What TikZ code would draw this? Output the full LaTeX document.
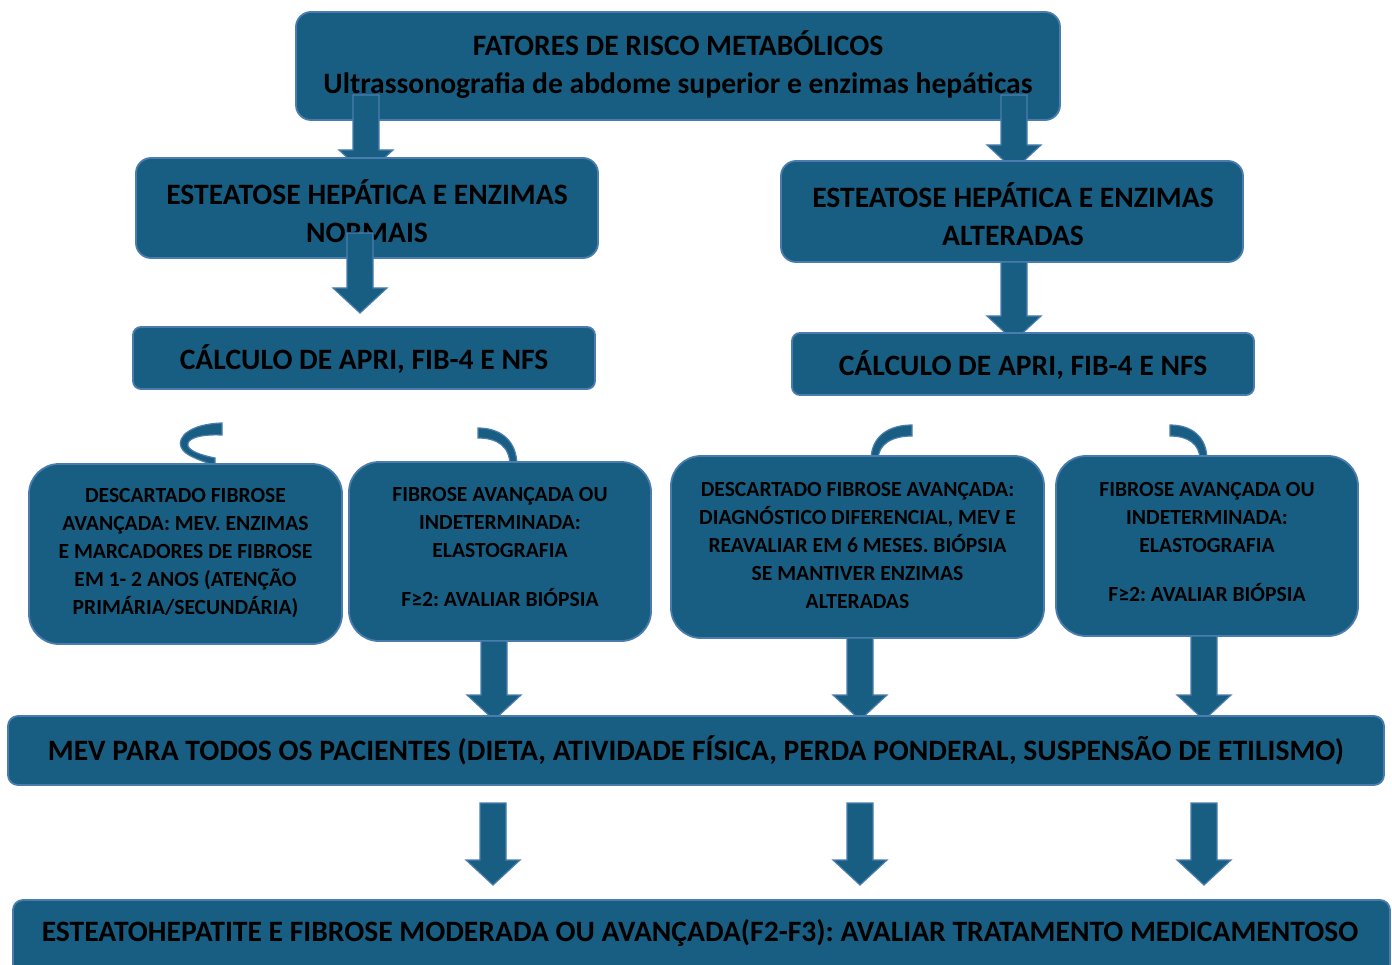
\documentclass[tikz,border=0pt]{standalone}
\usepackage{fontspec}
\setmainfont{Carlito}
\usetikzlibrary{calc}
\frenchspacing
\definecolor{boxfill}{HTML}{185E82}
\definecolor{boxline}{HTML}{4A7DAE}
\tikzset{
  box/.style={draw=boxline, line width=1.8pt, fill=boxfill, inner sep=0pt, rounded corners=#1},
  bigtxt/.style={font=\bfseries\fontsize{29.6}{38}\selectfont, align=center, text=black, inner sep=0pt},
  smalltxt/.style={font=\bfseries\fontsize{21.6}{28}\selectfont, align=center, text=black, inner sep=0pt},
  barrow/.style={draw=boxline, line width=1.2pt, fill=boxfill, line join=miter},
  curv/.style={draw=boxline, line width=1.2pt, fill=boxfill}
}
\newcommand\blockarrow[2]{%
  \path let \p1=(#1), \p2=(#2) in
    [barrow] (\x1-13pt,\y1) -- (\x1-13pt,\y2+25pt) -- (\x1-27pt,\y2+25pt) -- (\x1,\y2)
    -- (\x1+27pt,\y2+25pt) -- (\x1+13pt,\y2+25pt) -- (\x1+13pt,\y1) -- cycle;}
\begin{document}
\begin{tikzpicture}[x=1pt,y=-1pt]
\useasboundingbox (0,0) rectangle (1392,965);
\fill[white] (0,0) rectangle (1392,965);

% top box
\node[box=15pt, minimum width=764pt, minimum height=108pt] (top) at (678,66) {};
\node[bigtxt] (ttop) at (678,65) {FATORES DE RISCO METABÓLICOS\\Ultrassonografia de abdome superior e enzimas hepáticas};

% arrows from top
\coordinate (a1s) at (366,95); \coordinate (a1e) at (366,175);
\coordinate (a2s) at (1014,95); \coordinate (a2e) at (1014,170);
\blockarrow{a1s}{a1e}
\blockarrow{a2s}{a2e}

% level 2
\node[box=15pt, minimum width=462pt, minimum height=100pt] (l2a) at (367,208) {};
\node[bigtxt] (tl2a) at (367,211) {ESTEATOSE HEPÁTICA E ENZIMAS\\NORMAIS};
\node[box=15pt, minimum width=462pt, minimum height=101pt] (l2b) at (1012,211.5) {};
\node[bigtxt] (tl2b) at (1013,214) {ESTEATOSE HEPÁTICA E ENZIMAS\\ALTERADAS};

\coordinate (a3s) at (360,233); \coordinate (a3e) at (360,313);
\coordinate (a4s) at (1014,262); \coordinate (a4e) at (1014,341);
\blockarrow{a3s}{a3e}
\blockarrow{a4s}{a4e}

% level 3
\node[box=8pt, minimum width=462pt, minimum height=62pt] (l3a) at (364,358) {};
\node[bigtxt] (tl3a) at (364,359) {CÁLCULO DE APRI, FIB-4 E NFS};
\node[box=8pt, minimum width=462pt, minimum height=62pt] (l3b) at (1023,364) {};
\node[bigtxt] (tl3b) at (1023,365) {CÁLCULO DE APRI, FIB-4 E NFS};

% curved arrows
\path[curv] (222,423) .. controls (190,424) and (177,437) .. (181,447)
  .. controls (185,456) and (198,459) .. (215,466)
  -- (215,458) .. controls (200,455) and (190,451) .. (188,446)
  .. controls (186,439) and (198,434) .. (222,435) -- cycle;
\path[curv] (478,428) .. controls (500,428) and (517,440) .. (517,466)
  -- (510,466) .. controls (510,446) and (497,438) .. (478,438) -- cycle;
\path[curv] (912,425) .. controls (888,425) and (871,437) .. (871,460)
  -- (878,460) .. controls (878,444) and (892,436) .. (912,436) -- cycle;
\path[curv] (1170,425) .. controls (1192,425) and (1207,437) .. (1207,460)
  -- (1200,460) .. controls (1200,444) and (1188,436) .. (1170,436) -- cycle;

% level 4
\node[box=30pt, minimum width=313pt, minimum height=180pt] (ba) at (185.5,554) {};
\node[smalltxt] (tba) at (185.5,553) {DESCARTADO FIBROSE\\AVANÇADA: MEV. ENZIMAS\\E MARCADORES DE FIBROSE\\EM 1- 2 ANOS (ATENÇÃO\\PRIMÁRIA/SECUNDÁRIA)};
\node[box=30pt, minimum width=302pt, minimum height=179pt] (bb) at (500,551.5) {};
\node[smalltxt] (tbb) at (500,546.5) {FIBROSE AVANÇADA OU\\INDETERMINADA:\\ELASTOGRAFIA\\[21pt]F≥2: AVALIAR BIÓPSIA};
\node[box=30pt, minimum width=373pt, minimum height=182pt] (bc) at (857.5,547) {};
\node[smalltxt] (tbc) at (857.5,545) {DESCARTADO FIBROSE AVANÇADA:\\DIAGNÓSTICO DIFERENCIAL, MEV E\\REAVALIAR EM 6 MESES. BIÓPSIA\\SE MANTIVER ENZIMAS\\ALTERADAS};
\node[box=30pt, minimum width=302pt, minimum height=180pt] (bd) at (1207,546) {};
\node[smalltxt] (tbd) at (1207,541.5) {FIBROSE AVANÇADA OU\\INDETERMINADA:\\ELASTOGRAFIA\\[21pt]F≥2: AVALIAR BIÓPSIA};

\coordinate (a5s) at (494,641); \coordinate (a5e) at (494,720);
\coordinate (a6s) at (860,638); \coordinate (a6e) at (860,720);
\coordinate (a7s) at (1204,636); \coordinate (a7e) at (1204,720);
\blockarrow{a5s}{a5e}
\blockarrow{a6s}{a6e}
\blockarrow{a7s}{a7e}

% MEV
\node[box=10pt, minimum width=1376pt, minimum height=69pt] (mev) at (696,750.5) {};
\node[bigtxt] (tmev) at (696,750) {MEV PARA TODOS OS PACIENTES (DIETA, ATIVIDADE FÍSICA, PERDA PONDERAL, SUSPENSÃO DE ETILISMO)};

\coordinate (a8s) at (493,803); \coordinate (a8e) at (493,885);
\coordinate (a9s) at (860,803); \coordinate (a9e) at (860,885);
\coordinate (a10s) at (1204,803); \coordinate (a10e) at (1204,885);
\blockarrow{a8s}{a8e}
\blockarrow{a9s}{a9e}
\blockarrow{a10s}{a10e}

% bottom
\node[box=10pt, minimum width=1377pt, minimum height=75pt] (bot) at (701.5,937.5) {};
\node[bigtxt] (tbot) at (700,933) {ESTEATOHEPATITE E FIBROSE MODERADA OU AVANÇADA(F2-F3): AVALIAR TRATAMENTO MEDICAMENTOSO};
\end{tikzpicture}
\end{document}
